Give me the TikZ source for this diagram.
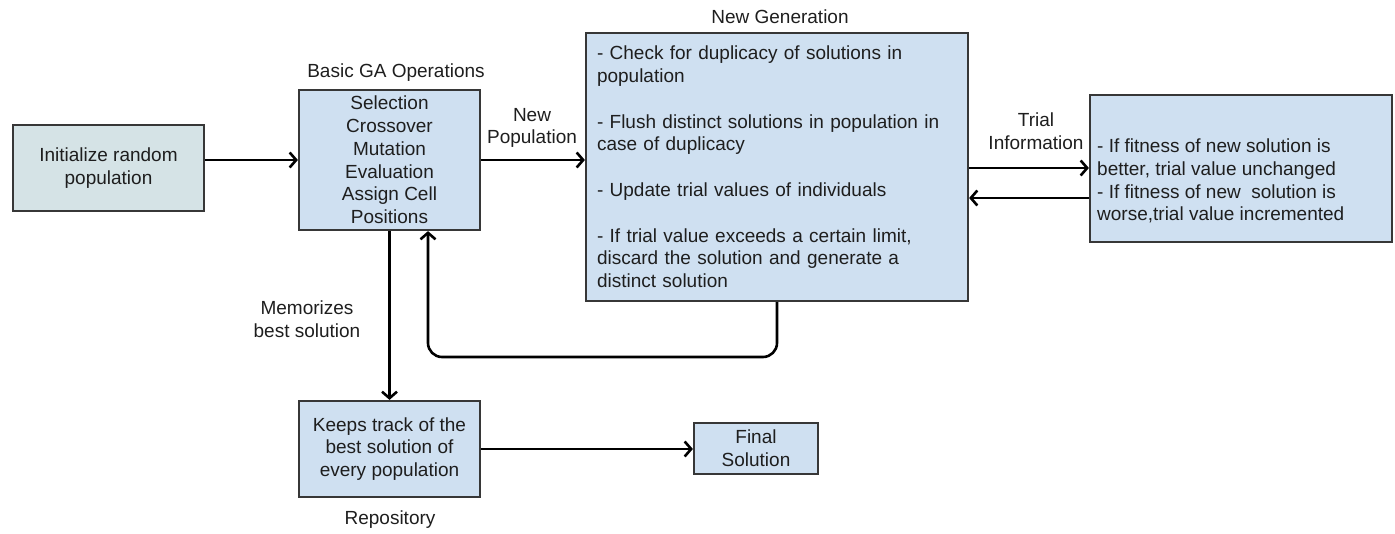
\documentclass[tikz,border=0pt]{standalone}
\usepackage{fontspec}
\setmainfont{Liberation Sans}
\usetikzlibrary{arrows.meta,calc}
\definecolor{boxblue}{RGB}{207,224,241}
\definecolor{boxgrey}{RGB}{213,227,230}
\definecolor{edge}{RGB}{55,55,55}
\definecolor{txt}{RGB}{30,30,30}
\tikzset{
  every node/.style={font=\fontsize{19}{22.8}\selectfont, text=txt, inner sep=0pt},
  box/.style={draw=edge, line width=2.2pt, fill=boxblue, align=center},
  lbl/.style={align=center},
  arr/.style={draw=black, line width=2.6pt, -{Straight Barb[length=6.5pt,width=15pt,line width=2.6pt]}},
}
\begin{document}
\begin{tikzpicture}[x=1pt,y=-1pt]
\useasboundingbox (0,0) rectangle (1395,534);
% boxes
\node[box, fill=boxgrey, minimum width=191pt, minimum height=86pt] (init) at (108.5,168) {Initialize random\\population};
\node[box, minimum width=181pt, minimum height=140pt] (ga) at (389.5,160) {Selection\\Crossover\\Mutation\\Evaluation\\Assign Cell\\Positions};
\node[box, minimum width=382pt, minimum height=268pt, align=left, text width=360pt] (ng) at (777,167)
 {- Check for duplicacy of solutions in\\population\\[22.8pt]- Flush distinct solutions in population in\\case of duplicacy\\[22.8pt]- Update trial values of individuals\\[22.8pt]- If trial value exceeds a certain limit,\\discard the solution and generate a\\distinct solution};
\node[box, minimum width=302pt, minimum height=147pt] (rb) at (1241,168.5) {};
\node[anchor=west, align=left] (rbt) at (1097,181) {- If fitness of new solution is\\better, trial value unchanged\\- If fitness of new\ \ solution is\\worse,trial value incremented};
\node[box, minimum width=181pt, minimum height=96pt] (repo) at (389.5,449) {Keeps track of the\\best solution of\\every population};
\node[box, minimum width=124pt, minimum height=51pt] (final) at (756,448.5) {Final\\Solution};
% labels
\node[lbl] (gat) at (396,73) {Basic GA Operations};
\node[lbl] (ngt) at (780,17) {New Generation};
\node[lbl] (npl) at (532,128) {New\\Population};
\node[lbl] (til) at (1036,131) {Trial\\Information};
\node[lbl] (mem) at (307,319) {Memorizes\\best solution};
\node[lbl] (rept) at (390,520) {Repository};
% connectors
\coordinate (t1) at ($(ng.east)+(0,1)$);
\coordinate (t2) at ($(ng.east)+(0,31)$);
\draw[arr] (init.east |- ga.west) -- (ga.west);
\draw[arr] (ga.east) -- (ga.east -| ng.west);
\draw[arr] (t1) -- (t1 -| rb.west);
\draw[arr] (t2 -| rb.west) -- (t2);
\draw[arr] (ga.south) -- (repo.north);
\coordinate (lp) at (428,357);
\draw[arr, rounded corners=14pt] (ng.south) |- (lp) -- (lp |- ga.south);
\draw[arr] (repo.east) -- (repo.east -| final.west);
\end{tikzpicture}
\end{document}
